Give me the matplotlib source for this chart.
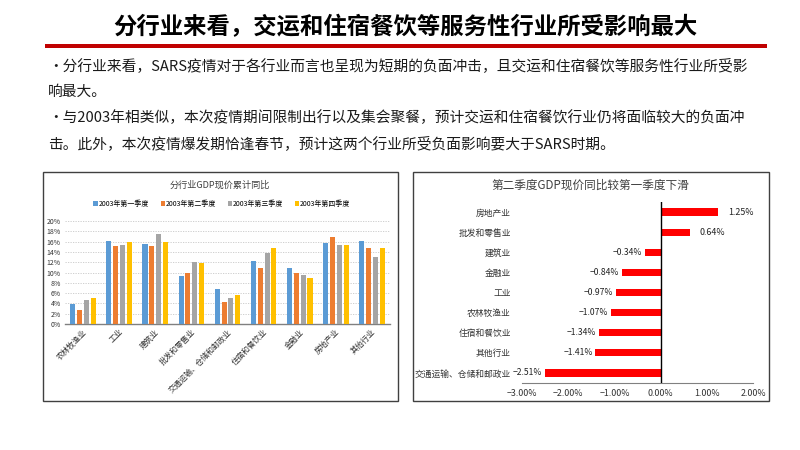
import numpy as np
import matplotlib
matplotlib.use('Agg')
import matplotlib.pyplot as plt
from matplotlib.patches import Rectangle
from matplotlib.ticker import FuncFormatter

plt.rcParams['font.family'] = ['Noto Sans CJK SC', 'DejaVu Sans']
plt.rcParams['axes.unicode_minus'] = True

# 页面文字
title = '分行业来看，交运和住宿餐饮等服务性行业所受影响最大'
bullet_lines = [
    '•分行业来看，SARS疫情对于各行业而言也呈现为短期的负面冲击，且交运和住宿餐饮等服务性行业所受影',
    '响最大。',
    '•与2003年相类似，本次疫情期间限制出行以及集会聚餐，预计交运和住宿餐饮行业仍将面临较大的负面冲',
    '击。此外，本次疫情爆发期恰逢春节，预计这两个行业所受负面影响要大于SARS时期。',
]

# 左图：分行业GDP现价累计同比 (%)
industries = ['农林牧渔业', '工业', '建筑业', '批发和零售业', '交通运输、仓储和邮政业',
              '住宿和餐饮业', '金融业', '房地产业', '其他行业']
quarters = ['2003年第一季度', '2003年第二季度', '2003年第三季度', '2003年第四季度']
q1 = [3.9, 16.2, 15.5, 9.3, 6.8, 12.3, 10.8, 15.7, 16.2]
q2 = [2.8, 15.2, 15.1, 9.9, 4.3, 10.9, 9.9, 16.9, 14.7]
q3 = [4.6, 15.3, 17.5, 12.1, 5.1, 13.8, 9.5, 15.4, 13.0]
q4 = [5.0, 15.9, 15.9, 11.8, 5.6, 14.7, 9.0, 15.4, 14.8]
q_colors = ['#5B9BD5', '#ED7D31', '#A5A5A5', '#FFC000']

# 右图：第二季度GDP现价同比较第一季度下滑 (百分点)
diff_labels = ['房地产业', '批发和零售业', '建筑业', '金融业', '工业', '农林牧渔业',
               '住宿和餐饮业', '其他行业', '交通运输、仓储和邮政业']
diff_values = [1.25, 0.64, -0.34, -0.84, -0.97, -1.07, -1.34, -1.41, -2.51]

W, H = 800, 450
fig = plt.figure(figsize=(8, 4.5), dpi=100)


def fx(px):
    return px / W


def fy(py):
    return 1 - py / H


# 标题和红线
fig.text(fx(405), fy(27), title, ha='center', va='center', fontsize=16.8, fontweight='bold')
fig.add_artist(Rectangle((fx(45), fy(48)), fx(767) - fx(45), 4 / H,
                         transform=fig.transFigure, color='#C00000', lw=0))

# 正文
for txt, py in zip(bullet_lines, [66, 92, 118, 144]):
    fig.text(fx(48), fy(py), txt, ha='left', va='center', fontsize=10.6, color='#1a1a1a')

# 图框
for x0, y0, x1, y1 in [(43, 172, 398, 401), (413, 172, 769, 401)]:
    fig.add_artist(Rectangle((fx(x0), fy(y1)), fx(x1) - fx(x0), (y1 - y0) / H,
                             transform=fig.transFigure, fill=False, ec='#404040', lw=1.0))

# ---- 左图 ----
ax1 = fig.add_axes([fx(65), fy(324), fx(390) - fx(65), (324 - 221) / H])
x = np.arange(len(industries))
bw = 0.14
step = 0.19
for i, (vals, c, lab) in enumerate(zip([q1, q2, q3, q4], q_colors, quarters)):
    ax1.bar(x + (i - 1.5) * step, vals, width=bw, color=c, label=lab, zorder=3)
ax1.set_xlim(-0.5, len(industries) - 0.5)
ax1.set_ylim(0, 20)
ax1.set_yticks(np.arange(0, 21, 2))
ax1.yaxis.set_major_formatter(FuncFormatter(lambda v, p: f'{v:.0f}%'))
ax1.grid(axis='y', color='#C8C8C8', ls=(0, (1.5, 1.5)), lw=0.6, zorder=0)
for s in ['top', 'right', 'left']:
    ax1.spines[s].set_visible(False)
ax1.spines['bottom'].set_color('#808080')
ax1.spines['bottom'].set_linewidth(1.0)
ax1.tick_params(axis='both', length=0, labelsize=5, colors='#333333', pad=3)
ax1.set_xticks(x)
ax1.set_xticklabels(industries, rotation=45, ha='right', rotation_mode='anchor', fontsize=5.6)
fig.text(fx(220), fy(185), '分行业GDP现价累计同比', ha='center', va='center', fontsize=6.6, color='#404040')
ax1.legend(loc='center', bbox_to_anchor=(fx(222), fy(204)), bbox_transform=fig.transFigure,
           ncol=4, frameon=False, fontsize=5, handlelength=0.6, handleheight=0.6,
           handletextpad=0.2, columnspacing=1.6, borderpad=0)

# ---- 右图 ----
ax2 = fig.add_axes([fx(522), fy(383), fx(753) - fx(522), (383 - 202) / H])
y = np.arange(len(diff_labels))
ax2.barh(y, diff_values, height=0.36, color='#FF0000', zorder=3)
ax2.set_ylim(len(diff_labels) - 0.5, -0.5)
ax2.set_xlim(-3, 2)
ax2.axvline(0, color='black', lw=1.0, zorder=4)
for s in ['top', 'right', 'left']:
    ax2.spines[s].set_visible(False)
ax2.spines['bottom'].set_color('#808080')
ax2.set_xticks(np.arange(-3, 3, 1))
ax2.xaxis.set_major_formatter(FuncFormatter(lambda v, p: f'{v:.2f}%'.replace('-', '−')))
ax2.set_yticks(y)
ax2.set_yticklabels(diff_labels)
ax2.tick_params(axis='x', length=0, labelsize=6.4, colors='#333333', pad=4)
ax2.tick_params(axis='y', length=0, labelsize=6.3, colors='#333333', pad=8)
for yi, v in zip(y, diff_values):
    lab = f'{v:.2f}%'.replace('-', '−')
    if v >= 0:
        ax2.annotate(lab, (v, yi), xytext=(7, 0), textcoords='offset points',
                     ha='left', va='center', fontsize=6.4, color='#222222')
    else:
        ax2.annotate(lab, (v, yi), xytext=(-2, 0), textcoords='offset points',
                     ha='right', va='center', fontsize=6.2, color='#222222')
fig.text(fx(590), fy(185), '第二季度GDP现价同比较第一季度下滑', ha='center', va='center',
         fontsize=8.4, color='#404040')

fig.savefig('out.png', dpi=100)
